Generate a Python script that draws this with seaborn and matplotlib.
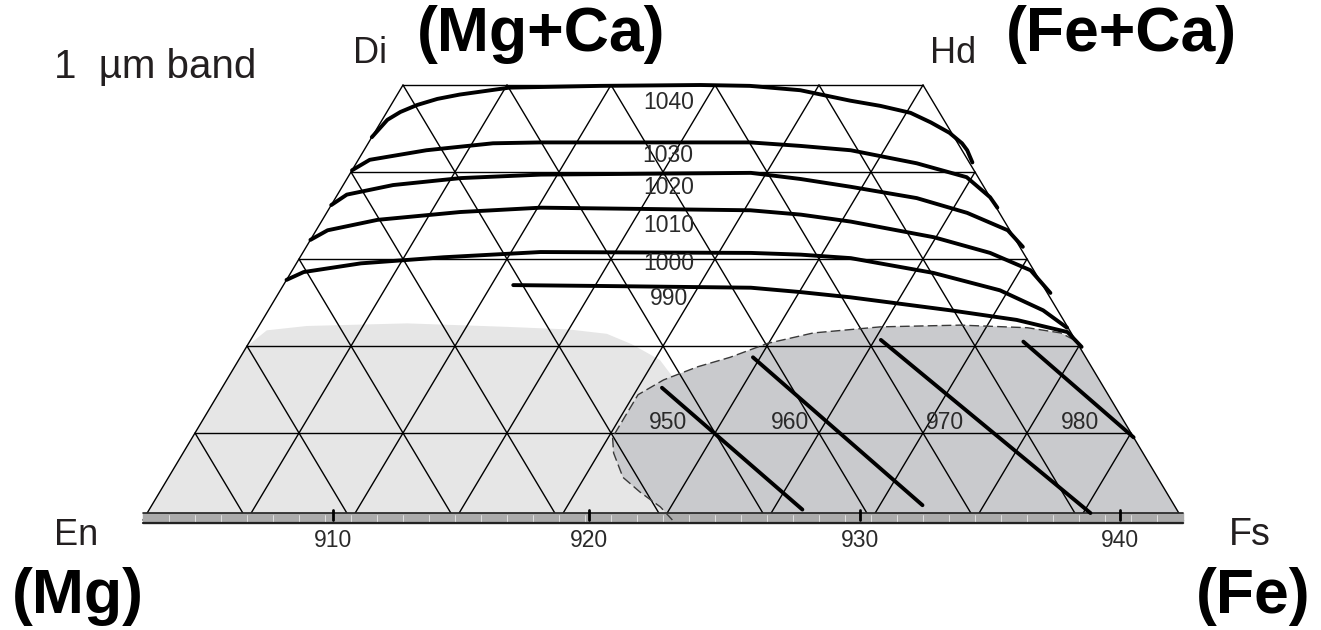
import matplotlib
matplotlib.use("Agg")
import matplotlib.pyplot as plt
import seaborn as sns
import numpy as np
import pandas as pd

contour_levels = ["1040", "1030", "1020", "1010", "1000", "990"]
c1040_fs = [0.0, 0.5, 1.3, 2.5, 4.1, 6.0, 10.4, 19.0, 28.6, 33.4, 38.5, 43.9, 47.1, 50.4,
            52.9, 55.3, 57.1, 58.0, 59.2]
c1040_wo = [44.0, 46.0, 46.9, 47.7, 48.4, 48.9, 49.7, 49.9, 50.0, 49.9, 49.4, 48.2, 47.6, 46.8,
            45.7, 44.5, 43.3, 42.5, 41.1]
c1030_fs = [0.0, 1.1, 6.0, 12.0, 16.5, 27.0, 36.7, 41.7, 46.8, 53.9, 59.5, 62.9, 64.2]
c1030_wo = [40.2, 41.4, 42.5, 43.3, 43.4, 43.4, 43.4, 43.0, 42.5, 41.0, 39.4, 37.1, 35.9]
c1020_fs = [0.0, 0.9, 4.8, 10.9, 18.4, 38.5, 43.6, 48.9, 55.9, 61.6, 66.5, 68.9]
c1020_wo = [36.2, 37.4, 38.5, 39.3, 39.7, 39.9, 39.2, 38.3, 37.0, 35.3, 33.3, 31.4]
c1010_fs = [0.0, 1.1, 5.3, 12.8, 20.3, 40.6, 45.7, 50.9, 59.8, 66.1, 71.0, 74.2]
c1010_wo = [32.2, 33.3, 34.5, 35.4, 35.9, 35.6, 35.1, 34.3, 32.5, 30.7, 28.7, 26.1]
c1000_fs = [0.0, 1.2, 6.2, 13.8, 22.8, 43.1, 48.0, 53.0, 61.8, 69.2, 74.5, 77.8]
c1000_wo = [27.6, 28.5, 29.5, 30.2, 30.8, 30.7, 30.5, 30.1, 28.4, 26.4, 24.1, 22.1]
c990_fs = [22.1, 30.5, 45.1, 50.1, 55.2, 65.6, 72.5, 78.1, 80.3]
c990_wo = [27.0, 26.9, 26.7, 26.2, 25.6, 24.1, 23.0, 21.6, 19.9]
contour_label_fs = [26.5, 29.5, 31.4, 33.6, 35.8, 37.8]
contour_label_wo = [48.0, 41.9, 38.2, 33.9, 29.5, 25.5]

# low-Ca contours (straight segments)
low_levels = ["950", "960", "970", "980"]
low_start_fs = [42.3, 49.3, 60.6, 74.4]
low_start_wo = [15.2, 18.7, 20.7, 20.5]
low_end_fs = [62.8, 74.1, 90.7, 90.5]
low_end_wo = [1.2, 1.7, 0.8, 9.5]
low_label_fs = [44.9, 56.6, 71.5, 84.5]
low_label_wo = [11.2, 11.2, 11.2, 11.2]

# shaded fields
dark_fs = [50.9, 49.0, 46.2, 43.7, 41.4, 40.4, 40.4, 42.0, 44.5, 47.1, 49.9, 53.7,
           59.8, 67.4, 74.0, 77.5, 79.6, 80.1, 100.0]
dark_wo = [0.0, 1.5, 3.2, 4.9, 7.7, 9.5, 14.4, 16.1, 17.6, 18.7, 20.3, 21.5,
           22.2, 22.4, 22.1, 21.5, 20.5, 19.9, 0.0]
light_fs = [0.0, 0.0, 1.0, 4.6, 14.1, 23.9, 30.0, 33.9, 36.9, 40.5, 43.1, 55.0]
light_wo = [0.0, 19.9, 21.8, 22.3, 22.6, 22.2, 21.9, 21.4, 20.2, 18.4, 16.1, 0.0]

# bottom scale
bottom_tick_fs = [18.3, 42.9, 68.9, 93.9]
bottom_tick_labels = ["910", "920", "930", "940"]


def tern(fs, wo):
    fs = np.asarray(fs, float)
    wo = np.asarray(wo, float)
    return fs + wo / 2.0, wo


sns.set_style("white")
plt.rcParams["font.family"] = ["Liberation Sans", "DejaVu Sans"]

fig = plt.figure(figsize=(13.21, 6.30), dpi=100)
ax = fig.add_axes([0, 0, 1, 1])
ax.set_xlim(-143 / 10.4, (1321 - 143) / 10.4)
ax.set_ylim(-110 / 8.7, (630 - 110) / 8.7)
ax.axis("off")

# shaded fields
x, y = tern(light_fs, light_wo)
ax.fill(x, y, color="#e6e6e6", lw=0, zorder=1)
x, y = tern(dark_fs, dark_wo)
ax.fill(x, y, color="#c9cacd", lw=0, zorder=1.5)
ax.plot(x[:-1], y[:-1], color="#3a3a3a", lw=1.0, ls=(0, (7, 3)), zorder=3)

# triangular 10 % grid inside the quadrilateral
gk = dict(color="black", lw=1.0, zorder=2)
for i in range(6):
    wo = i * 10
    ax.plot(*tern([0, 100 - wo], [wo, wo]), **gk)
for i in range(11):
    fs = i * 10
    top = min(50, 100 - fs)
    ax.plot(*tern([fs, fs], [0, top]), **gk)
    en = i * 10
    top = min(50, 100 - en)
    ax.plot(*tern([100 - en, 100 - en - top], [0, top]), **gk)

# bottom scale bar
ax.fill_between([0, 100], -0.3, 0.8, color="#ababab", zorder=2.5)
ax.plot([0, 100], [0.8, 0.8], color="#222222", lw=1.2, zorder=2.6)
ax.plot([0, 100], [-0.3, -0.3], color="#222222", lw=1.6, zorder=2.6)
for k in np.arange(2.5, 100, 2.5):
    ax.plot([k, k], [-0.1, 0.6], color="#e8e8e8", lw=0.6, zorder=2.7)
for xt, lab in zip(bottom_tick_fs, bottom_tick_labels):
    ax.plot([xt, xt], [0, 1.2], color="black", lw=2.0, zorder=2.8)
    ax.text(xt, -2.4, lab, ha="center", va="center", fontsize=16.5, color="#2a2a2a")

# high-Ca band contours
curves = [(c1040_fs, c1040_wo), (c1030_fs, c1030_wo), (c1020_fs, c1020_wo),
          (c1010_fs, c1010_wo), (c1000_fs, c1000_wo), (c990_fs, c990_wo)]
frames = []
for lev, (fs, wo) in zip(contour_levels, curves):
    x, y = tern(fs, wo)
    frames.append(pd.DataFrame({"x": x, "y": y, "level": lev}))
for lev, fs0, wo0, fs1, wo1 in zip(low_levels, low_start_fs, low_start_wo, low_end_fs, low_end_wo):
    x, y = tern([fs0, fs1], [wo0, wo1])
    frames.append(pd.DataFrame({"x": x, "y": y, "level": lev}))
lines = pd.concat(frames, ignore_index=True)
sns.lineplot(data=lines, x="x", y="y", units="level", estimator=None, sort=False,
             color="black", lw=2.8, ax=ax, zorder=4, legend=False)

for lab, fs, wo in zip(contour_levels + low_levels, contour_label_fs + low_label_fs,
                       contour_label_wo + low_label_wo):
    x, y = tern(fs, wo)
    ax.text(x, y, lab, ha="center", va="center", fontsize=16.5, color="#2a2a2a", zorder=5)

# end-member labels
fig.text(54 / 1321, 1 - 78 / 630, "1  µm band", fontsize=29, color="#231f20", ha="left", va="baseline")
fig.text(353 / 1321, 1 - 63 / 630, "Di", fontsize=26, color="#231f20", ha="left", va="baseline")
fig.text(930 / 1321, 1 - 63 / 630, "Hd", fontsize=26, color="#231f20", ha="left", va="baseline")
fig.text(54 / 1321, 1 - 545 / 630, "En", fontsize=26, color="#231f20", ha="left", va="baseline")
fig.text(1229 / 1321, 1 - 545 / 630, "Fs", fontsize=27, color="#231f20", ha="left", va="baseline")
bk = dict(fontsize=45, fontweight="bold", color="black", ha="center", va="center")
fig.text(541 / 1321, 1 - 34 / 630, "(Mg+Ca)", **bk)
fig.text(1121 / 1321, 1 - 34 / 630, "(Fe+Ca)", **bk)
fig.text(78 / 1321, 1 - 597 / 630, "(Mg)", **bk)
fig.text(1253 / 1321, 1 - 597 / 630, "(Fe)", **bk)

fig.savefig("out.png", dpi=100, facecolor="white")
